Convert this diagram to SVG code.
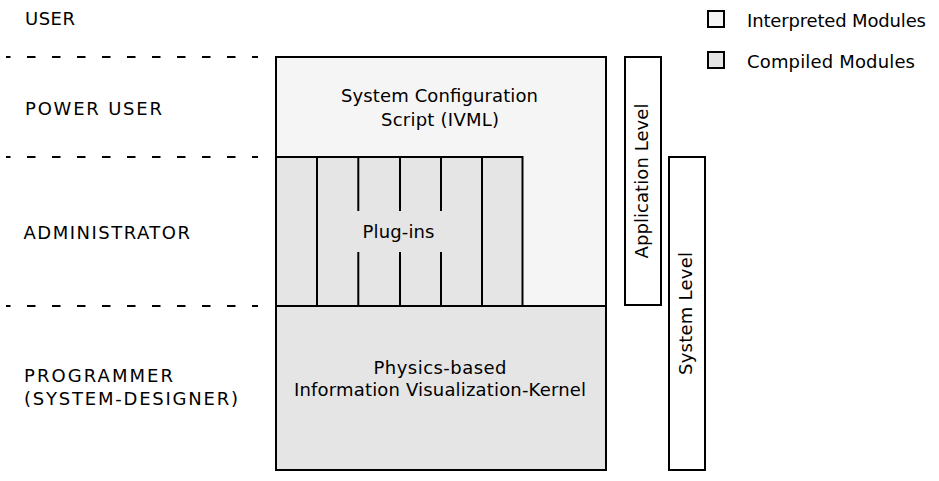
<svg xmlns="http://www.w3.org/2000/svg" width="939" height="481" viewBox="0 0 939 481">
<style>
text{font-family:"DejaVu Sans","Liberation Sans",sans-serif;font-size:18px;fill:#000}
.mid{text-anchor:middle}
.box{stroke:#000;stroke-width:2}
.interp{fill:#f5f5f5}
.comp{fill:#e5e5e5}
.lvl{fill:#fff;stroke:#000;stroke-width:2}
.sep{stroke:#000;stroke-width:2;stroke-dasharray:8.5 16.5;stroke-dashoffset:4;fill:none}
.div{stroke:#000;stroke-width:2;fill:none}
</style>
<rect width="939" height="481" fill="#fff"/>
<g id="separators">
<line class="sep" x1="6" y1="57" x2="258" y2="57"/>
<line class="sep" x1="6" y1="157" x2="258" y2="157"/>
<line class="sep" x1="6" y1="306" x2="258" y2="306"/>
</g>
<g id="roles">
<text x="25" y="25" textLength="50">USER</text>
<text x="25" y="115" textLength="137">POWER USER</text>
<text x="23.5" y="239" textLength="166.5">ADMINISTRATOR</text>
<text x="24" y="382" textLength="149">PROGRAMMER</text>
<text x="24" y="405" textLength="214">(SYSTEM-DESIGNER)</text>
</g>
<g id="config">
<rect class="box interp" x="276" y="57" width="330" height="249"/>
<text class="mid" x="439.5" y="102" textLength="197">System Configuration</text>
<text class="mid" x="440" y="126" textLength="118">Script (IVML)</text>
</g>
<g id="plugins">
<rect class="box comp" x="276" y="157" width="246.5" height="149"/>
<line class="div" x1="317" y1="157" x2="317" y2="306"/>
<line class="div" x1="358.3" y1="157" x2="358.3" y2="211"/>
<line class="div" x1="358.3" y1="252" x2="358.3" y2="306"/>
<line class="div" x1="400" y1="157" x2="400" y2="211"/>
<line class="div" x1="400" y1="252" x2="400" y2="306"/>
<line class="div" x1="441" y1="157" x2="441" y2="211"/>
<line class="div" x1="441" y1="252" x2="441" y2="306"/>
<line class="div" x1="482" y1="157" x2="482" y2="306"/>
<text class="mid" x="398.5" y="238" textLength="72">Plug-ins</text>
</g>
<g id="kernel">
<rect class="box comp" x="276" y="306" width="330" height="164"/>
<text class="mid" x="440" y="374" textLength="133">Physics-based</text>
<text class="mid" x="440" y="396" textLength="292">Information Visualization-Kernel</text>
</g>
<g id="application-level">
<rect class="lvl" x="625" y="57" width="36" height="248"/>
<text class="mid" transform="translate(648 181) rotate(-90)" textLength="155">Application Level</text>
</g>
<g id="system-level">
<rect class="lvl" x="669" y="157" width="36" height="313"/>
<text class="mid" transform="translate(692 313.5) rotate(-90)" textLength="123">System Level</text>
</g>
<g id="legend">
<rect class="box interp" x="708" y="11" width="16" height="16"/>
<text x="747" y="27" textLength="179">Interpreted Modules</text>
<rect class="box comp" x="708" y="52" width="16" height="16"/>
<text x="747" y="68" textLength="168">Compiled Modules</text>
</g>
<g id="connectors"></g>
</svg>
